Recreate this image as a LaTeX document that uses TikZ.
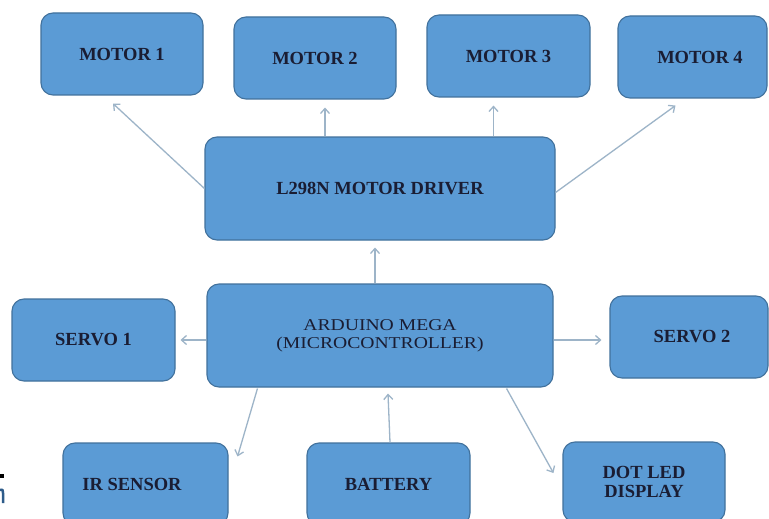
\documentclass[tikz,border=0pt]{standalone}
\usepackage{fontspec}
\setmainfont{Liberation Serif}
\usepackage{graphicx}
\usetikzlibrary{arrows.meta}
\definecolor{boxfill}{HTML}{5B9BD5}
\definecolor{boxline}{HTML}{41719C}
\definecolor{arrcol}{HTML}{9DB4C8}
\definecolor{txt}{HTML}{1A1D33}
\definecolor{frag}{HTML}{2E5C8A}
\begin{document}
\begin{tikzpicture}[x=1pt,y=-1pt,
  blk/.style={draw=boxline, line width=1.1pt, fill=boxfill, rounded corners=12pt,
    inner sep=0pt, text=txt, font=\fontsize{18.5}{19}\selectfont\bfseries, align=center},
  arr/.style={draw=arrcol, line width=1.3pt, -{Straight Barb[length=5pt,width=9pt]}}]
\useasboundingbox (0,0) rectangle (769,519);
\fill[white] (0,0) rectangle (769,519);
\clip (0,0) rectangle (769,519);

\node[blk, minimum width=162pt, minimum height=82pt] (m1) at (122,54) {MOTOR 1};
\node[blk, minimum width=162pt, minimum height=82pt] (m2) at (315,58) {MOTOR 2};
\node[blk, minimum width=163pt, minimum height=82pt] (m3) at (508.5,56) {MOTOR 3};
\node[blk, minimum width=149pt, minimum height=82pt] (m4) at (692.5,57) {\hspace*{15pt}MOTOR 4};
\node[blk, minimum width=350pt, minimum height=103pt] (drv) at (380,188.5) {L298N MOTOR DRIVER};
\node[blk, minimum width=346pt, minimum height=103pt,
  font=\fontsize{16.5}{18}\selectfont] (mcu) at (380,335.5)
  {\scalebox{1.19}[1]{ARDUINO MEGA}\\\scalebox{1.19}[1]{(MICROCONTROLLER)}};
\node[blk, minimum width=163pt, minimum height=82pt] (s1) at (93.5,340) {SERVO 1};
\node[blk, minimum width=158pt, minimum height=82pt] (s2) at (689,337) {\hspace*{6pt}SERVO 2};
\node[blk, minimum width=165pt, minimum height=82pt] (ir) at (145.5,484) {IR SENSOR\hspace*{27pt}};
\node[blk, minimum width=163pt, minimum height=82pt] (bat) at (388.5,484) {BATTERY};
\node[blk, minimum width=162pt, minimum height=80pt] (dot) at (644,482) {DOT LED\\DISPLAY};

\coordinate (s2in) at ([shift={(-8,3)}]s2.west);
\draw[arr] (drv.west) -- ([shift={(-9,8)}]m1.south);
\draw[arr] ([xshift=10pt]m2.south |- drv.north) -- ([shift={(10,8)}]m2.south);
\draw[arr] ([xshift=-15pt]m3.south |- drv.north) -- ([shift={(-15,8)}]m3.south);
\draw[arr] ([yshift=-4pt]drv.east) -- ([shift={(-17,7)}]m4.south);
\draw[arr] ([xshift=-5pt]mcu.north) -- ([shift={(-5,7)}]drv.south);
\draw[arr] (mcu.west |- s1.east) -- ([xshift=5pt]s1.east);
\draw[arr] (mcu.east |- s2in) -- (s2in);
\draw[arr] ([shift={(51,1)}]mcu.south west) -- ([shift={(9,14)}]ir.north east);
\draw[arr] ([xshift=1.5pt]bat.north) -- ([shift={(8,6)}]mcu.south);
\draw[arr] ([shift={(-47,1)}]mcu.south east) -- ([shift={(-9,-9)}]dot.west);

\fill[black] (0,474) rectangle (4,478);
\draw[frag, line width=2.5pt] (0,490) .. controls (3,489) and (3,491) .. (3,493) -- (3,503);
\end{tikzpicture}
\end{document}
